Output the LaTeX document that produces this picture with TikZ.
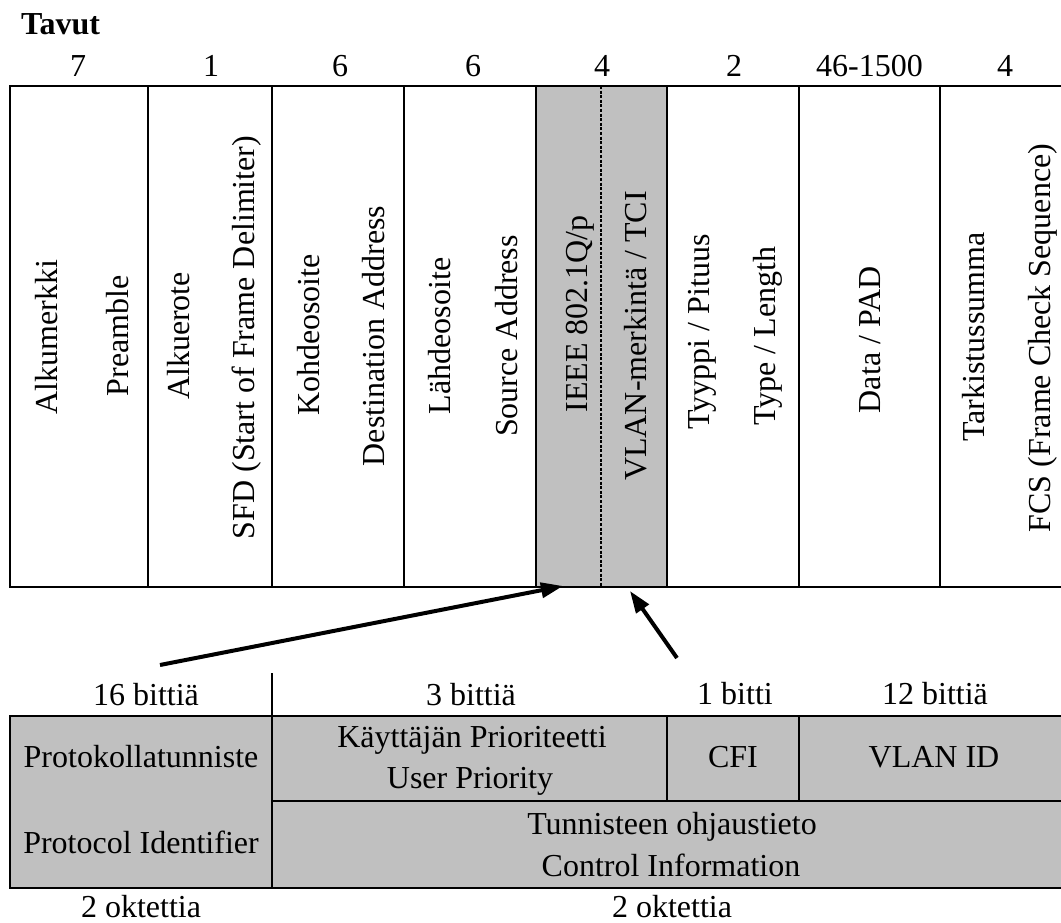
\documentclass[tikz,border=0pt]{standalone}
\usepackage{fontspec}
\setmainfont{Liberation Serif}
\usetikzlibrary{arrows.meta}
\definecolor{fieldgrey}{HTML}{C0C0C0}
\begin{document}
\begin{tikzpicture}[x=1pt,y=-1pt,
  every node/.style={inner sep=0pt, font=\fontsize{32}{38}\selectfont},
  frame/.style={line width=2.6pt},
  vlabel/.style={rotate=90, anchor=base},
  hlabel/.style={anchor=base},
  pointer/.style={line width=4pt, -{Triangle[length=22pt,width=15pt]}},
]
\useasboundingbox (0,0) rectangle (1061,923);

% ---- Ethernet frame with 802.1Q tag ----
\fill[fieldgrey] (536,86) rectangle (667,587);
\draw[frame] (1061,86) -- (10,86) -- (10,587) -- (1061,587);
\foreach \x in {148,272,404,536,667,799,940}
  \draw[frame] (\x,86) -- (\x,587);
\draw[line width=2pt, dash pattern=on 3pt off 1.6pt] (601,86) -- (601,587);

\node[anchor=base west, font=\fontsize{32}{38}\selectfont\bfseries] (unit) at (21,35) {Tavut};

% field sizes in bytes
\node[hlabel] (n1) at (78,77) {7};
\node[hlabel] (n2) at (211,77) {1};
\node[hlabel] (n3) at (340,77) {6};
\node[hlabel] (n4) at (473,77) {6};
\node[hlabel] (n5) at (602,77) {4};
\node[hlabel] (n6) at (734,77) {2};
\node[hlabel] (n7) at (869.5,77) {46-1500};
\node[hlabel] (n8) at (1005,77) {4};

% field names
\node[vlabel] (f1a) at (57,337) {Alkumerkki};
\node[vlabel] (f1b) at (128,336) {Preamble};
\node[vlabel] (f2a) at (189,336) {Alkuerote};
\node[vlabel] (f2b) at (254,337.5) {SFD (Start of Frame Delimiter)};
\node[vlabel] (f3a) at (319,335) {Kohdeosoite};
\node[vlabel] (f3b) at (384,336) {Destination Address};
\node[vlabel] (f4a) at (450,336) {Lähdeosoite};
\node[vlabel] (f4b) at (517,336) {Source Address};
\node[vlabel] (f5a) at (587,314) {IEEE 802.1Q/p};
\node[vlabel] (f5b) at (646,336) {VLAN-merkintä / TCI};
\node[vlabel] (f6a) at (709,332) {Tyyppi / Pituus};
\node[vlabel] (f6b) at (775,336) {Type / Length};
\node[vlabel] (f7)  at (880,340) {Data / PAD};
\node[vlabel] (f8a) at (984,337) {Tarkistussumma};
\node[vlabel] (f8b) at (1050,338) {FCS (Frame Check Sequence)};

% ---- tag detail ----
\fill[fieldgrey] (10,716) rectangle (1061,888);
\draw[frame] (1061,716) -- (10,716) -- (10,888) -- (1061,888);
\draw[frame] (272,673) -- (272,888);
\draw[frame] (272,801) -- (1061,801);
\draw[frame] (667,716) -- (667,801);
\draw[frame] (799,716) -- (799,801);

\node[hlabel] (b16) at (146,705) {16 bittiä};
\node[hlabel] (b3)  at (471,705) {3 bittiä};
\node[hlabel] (b1)  at (735,704) {1 bitti};
\node[hlabel] (b12) at (935,704) {12 bittiä};

\node[hlabel] (pid1) at (141,767) {Protokollatunniste};
\node[hlabel] (pid2) at (141,853) {Protocol Identifier};
\node[hlabel] (up1)  at (472,747) {Käyttäjän Prioriteetti};
\node[hlabel] (up2)  at (470,788) {User Priority};
\node[hlabel] (cfi)  at (733,767) {CFI};
\node[hlabel] (vid)  at (934,767) {VLAN ID};
\node[hlabel] (tci1) at (672,834) {Tunnisteen ohjaustieto};
\node[hlabel] (tci2) at (671,876) {Control Information};

\node[hlabel] (o1) at (141,917) {2 oktettia};
\node[hlabel] (o2) at (672,917) {2 oktettia};

% ---- pointers from the detail to the tag halves ----
\coordinate (tpidFrom) at (160,665);
\coordinate (tpidTo) at (563,586);
\coordinate (tciFrom) at (677,658);
\coordinate (tciTo) at (630,591);
\draw[pointer] (tpidFrom) -- (tpidTo);
\draw[pointer] (tciFrom) -- (tciTo);
\end{tikzpicture}
\end{document}
